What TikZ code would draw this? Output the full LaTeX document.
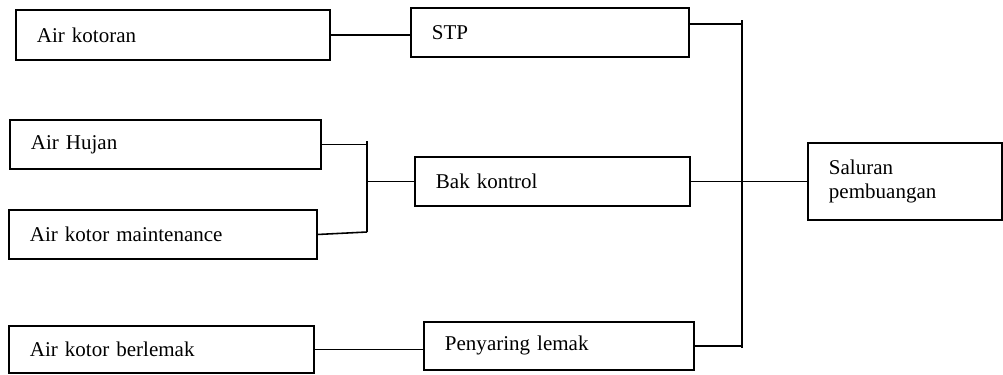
\documentclass[tikz,border=0pt]{standalone}
\usepackage{fontspec}
\setmainfont{Liberation Serif}
\usetikzlibrary{positioning}
\newcommand{\pxl}{0.571pt}

\begin{document}
\begin{tikzpicture}[x=\pxl,y=-\pxl,font=\fontsize{12}{14}\selectfont,
  box/.style={rectangle,draw,line width=1.1pt,anchor=north west,align=left,inner xsep=21*\pxl,inner ysep=0pt}]
            \tikzstyle{wire}=[line width=0.9pt]
            \useasboundingbox (0,0) rectangle (1003,374);
            \node[box,text width=272*\pxl,minimum height=50*\pxl](kotoran) at (15,9) {Air kotoran};
            \node[box,text width=236*\pxl,minimum height=49*\pxl](stp) at (410,7) {STP};
            \node[box,text width=269*\pxl,minimum height=49*\pxl](hujan) at (9,119) {Air Hujan};
            \node[box,text width=266*\pxl,minimum height=49*\pxl](maint) at (8,209) {Air kotor maintenance};
            \node[box,text width=233*\pxl,minimum height=49*\pxl](bak) at (414,156) {Bak kontrol};
            \node[box,text width=152*\pxl,minimum height=77*\pxl](saluran) at (807,142) {Saluran\\pembuangan};
            \node[box,text width=263*\pxl,minimum height=47*\pxl](lemak) at (8,325) {Air kotor berlemak};
            \node[box,text width=228*\pxl,minimum height=48*\pxl](penyaring) at (423,321) {Penyaring lemak};
            \coordinate (bustop) at (742,20);
            \coordinate (busbot) at (742,348);
            \coordinate (jtop) at (367,141);
            \coordinate (jbot) at (367,232);
            \draw[wire] (bustop) -- (busbot);
            \draw[wire] (jtop) -- (jbot);
            \draw[wire] (kotoran.east) -- (kotoran.east -| stp.west);
            \draw[wire] ([yshift=8.5*\pxl]stp.east) -- ([yshift=8.5*\pxl]stp.east -| bustop);
            \draw[wire] (hujan.east) -- (hujan.east -| jtop);
            \draw[wire] (maint.east) -- (jbot);
            \draw[wire] (bak.west -| jtop) -- (bak.west);
            \draw[wire] (bak.east) -- (bak.east -| bustop);
            \draw[wire] (saluran.west -| bustop) -- (saluran.west);
            \draw[wire] (lemak.east) -- (lemak.east -| penyaring.west);
            \draw[wire] (penyaring.east) -- (penyaring.east -| busbot);
          \end{tikzpicture}
\end{document}
